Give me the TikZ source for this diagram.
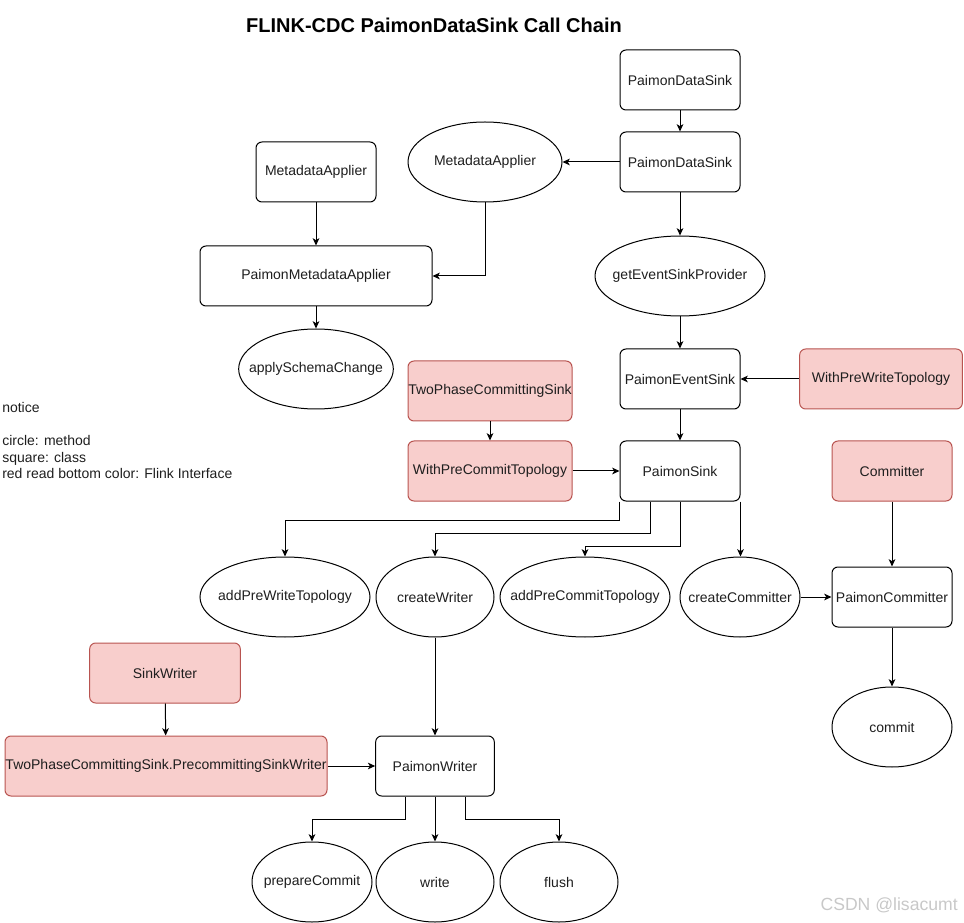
\documentclass[tikz,border=0pt]{standalone}
\usepackage{fontspec}
\setmainfont{Liberation Sans}
\usetikzlibrary{arrows.meta,shapes.geometric}
\definecolor{chainink}{HTML}{000000}
\definecolor{chaintext}{HTML}{1E1E1E}
\definecolor{ifacefill}{HTML}{F8CECC}
\definecolor{ifaceline}{HTML}{B85450}
\definecolor{markgray}{HTML}{C8C8C8}

\begin{document}
\begin{tikzpicture}[
  x=0.75pt,
  y=-0.75pt,
  every node/.style={font=\fontsize{10.5}{12}\selectfont, text=chaintext},
  classbox/.style={draw=chainink, fill=white, rounded corners=4.5pt, line width=0.75pt,
    minimum width=90pt, minimum height=45pt, inner sep=0pt},
  ifacebox/.style={classbox, draw=ifaceline, fill=ifacefill},
  method/.style={draw=chainink, ellipse, line width=0.75pt,
    minimum width=90pt, minimum height=60pt, inner xsep=-25pt, inner ysep=0pt},
  call/.style={draw=chainink, line width=0.75pt, -{Stealth[length=5.5pt, width=5pt, inset=1.5pt]}}
]
  \useasboundingbox (0,0) rectangle (964,923);

  \node[font=\bfseries\fontsize{15}{18}\selectfont, text=black] (title) at (434,25)
    {FLINK-CDC PaimonDataSink Call Chain};

  \node[classbox] (datasink) at (680,80) {PaimonDataSink};
  \node[classbox] (datasinkimpl) at (680,162) {PaimonDataSink};
  \node[method, minimum width=115.5pt] (mapplier) at (485,162) {MetadataApplier};
  \node[classbox] (mapplierif) at (316,172) {MetadataApplier};
  \node[classbox, minimum width=174pt] (pmapplier) at (316,276) {PaimonMetadataApplier};
  \node[method, minimum width=116pt] (schemachange) at (316,369) {applySchemaChange};
  \node[method, minimum width=127.5pt] (provider) at (680,276) {getEventSinkProvider};
  \node[classbox] (eventsink) at (680,379) {PaimonEventSink};
  \node[ifacebox, minimum width=122pt] (prewrite) at (881,379) {WithPreWriteTopology};
  \node[ifacebox, minimum width=123pt] (twophase) at (490,391) {TwoPhaseCommittingSink};
  \node[ifacebox, minimum width=123pt] (precommit) at (490,471) {WithPreCommitTopology};
  \node[classbox] (psink) at (680,471) {PaimonSink};
  \node[ifacebox] (committer) at (892,471) {Committer};

  \node[method, minimum width=127.5pt] (addprewrite) at (285,597) {addPreWriteTopology};
  \node[method, minimum width=88.5pt] (createwriter) at (435,597) {createWriter};
  \node[method, minimum width=127.5pt] (addprecommit) at (585,597) {addPreCommitTopology};
  \node[method] (createcommitter) at (740,597) {createCommitter};
  \node[classbox] (pcommitter) at (892,597) {PaimonCommitter};
  \node[method] (commit) at (892,727) {commit};

  \node[ifacebox, minimum width=113pt] (sinkwriter) at (165,673) {SinkWriter};
  \node[ifacebox, minimum width=241.5pt] (precommitting) at (166,766)
    {TwoPhaseCommittingSink.PrecommittingSinkWriter};
  \node[classbox, minimum width=89pt] (pwriter) at (435,766) {PaimonWriter};
  \node[method] (prepare) at (312,882) {prepareCommit};
  \node[method, minimum width=88.5pt] (write) at (435,882) {write};
  \node[method, minimum width=88.5pt] (flush) at (559,882) {flush};

  \node[anchor=west, align=left, inner sep=0pt, font=\fontsize{10.5}{12.5}\selectfont] (legend)
    at (2,440.5) {notice\\[12.5pt]circle: method\\square: class\\red read bottom color: Flink Interface};

  \node[anchor=east, inner sep=0pt, text=markgray, font=\fontsize{13.2}{15}\selectfont] (mark)
    at (958,905) {CSDN @lisacumt};

  \draw[call] (datasink) -- (datasinkimpl);
  \draw[call] (datasinkimpl.west) -- (mapplier.east);
  \draw[call] (datasinkimpl) -- (provider);
  \draw[call] (mapplier.south) |- (pmapplier.east);
  \draw[call] (mapplierif) -- (pmapplier);
  \draw[call] (pmapplier) -- (schemachange);
  \draw[call] (provider) -- (eventsink);
  \draw[call] (prewrite) -- (eventsink);
  \draw[call] (eventsink) -- (psink);
  \draw[call] (twophase) -- (precommit);
  \draw[call] (precommit) -- (psink);

  \draw[call] (psink.south west) -- ++(0,19) -| (addprewrite.north);
  \draw[call] ([xshift=-22.5pt]psink.south) -- ++(0,32) -| (createwriter.north);
  \draw[call] (psink.south) -- ++(0,45) -| (addprecommit.north);
  \draw[call] (psink.south east) -- (psink.south east |- createcommitter.north);
  \draw[call] (createcommitter) -- (pcommitter);
  \draw[call] (committer) -- (pcommitter);
  \draw[call] (pcommitter) -- (commit);

  \draw[call] (createwriter) -- (pwriter);
  \draw[call] (sinkwriter) -- (precommitting);
  \draw[call] (precommitting) -- (pwriter);
  \draw[call] ([xshift=-22.5pt]pwriter.south) -- ++(0,23) -| (prepare.north);
  \draw[call] (pwriter) -- (write);
  \draw[call] ([xshift=22.5pt]pwriter.south) -- ++(0,23) -| (flush.north);
\end{tikzpicture}
\end{document}
